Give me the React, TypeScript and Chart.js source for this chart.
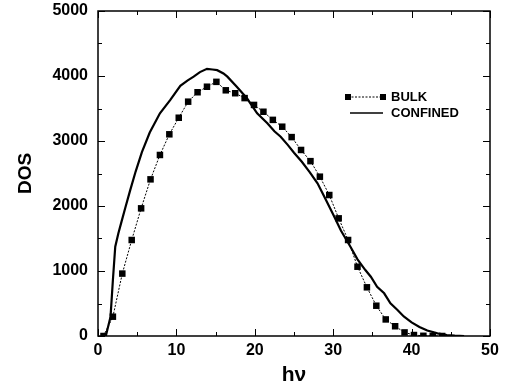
import React, { useEffect, useRef } from "react";
import { Chart, registerables } from "chart.js";

Chart.register(...registerables);

const bulkX = [0.7, 1.9, 3.1, 4.3, 5.5, 6.7, 7.9, 9.1, 10.3, 11.5, 12.7, 13.9, 15.1, 16.3, 17.5, 18.7, 19.9, 21.1, 22.3, 23.5, 24.7, 25.9, 27.1, 28.3, 29.5, 30.7, 31.9, 33.1, 34.3, 35.5, 36.7, 37.9, 39.1, 40.3, 41.5, 42.7, 43.9];
const bulkY = [0, 297, 960, 1477, 1964, 2410, 2785, 3103, 3358, 3605, 3750, 3835, 3910, 3780, 3735, 3660, 3555, 3450, 3325, 3220, 3060, 2862, 2690, 2451, 2169, 1810, 1477, 1066, 749, 466, 255, 150, 55, 15, 3, 0, 0];

const confinedX = [1.0, 1.6, 1.9, 2.2, 2.6, 3.0, 3.5, 4.1, 4.8, 5.6, 6.6, 7.9, 9.2, 10.5, 11.4, 12.2, 13.0, 13.9, 14.6, 15.2, 16.0, 16.5, 17.7, 19.0, 20.3, 21.6, 22.5, 23.3, 24.2, 25.0, 26.0, 27.0, 28.0, 29.0, 30.0, 31.0, 32.2, 33.1, 34.1, 34.8, 35.6, 36.5, 37.3, 38.2, 39.0, 40.0, 41.0, 42.0, 43.3, 44.5, 45.5, 46.7];
const confinedY = [0, 297, 862, 1374, 1580, 1760, 1980, 2240, 2530, 2830, 3130, 3426, 3630, 3850, 3930, 3990, 4060, 4110, 4100, 4090, 4040, 3990, 3835, 3657, 3426, 3272, 3150, 3066, 2940, 2820, 2680, 2520, 2350, 2110, 1870, 1620, 1374, 1180, 1015, 912, 758, 657, 503, 400, 300, 210, 140, 85, 41, 15, 5, 0];

const xMajorTicks = [0, 10, 20, 30, 40, 50];
const xMinorTicks = [5, 15, 25, 35, 45];
const yMajorTicks = [0, 1000, 2000, 3000, 4000, 5000];
const yMinorTicks = [500, 1500, 2500, 3500, 4500];

const seriesLabels = ["BULK", "CONFINED"];
const xTitle = "h\u03bd";
const yTitle = "DOS";

const FONT = "'Liberation Sans', Arial, Helvetica, sans-serif";

const framePlugin = {
  id: "frameTicks",
  afterDraw(chart: any) {
    const { ctx, chartArea } = chart;
    const { left, right, top, bottom } = chartArea;
    const xs = chart.scales.x;
    const ys = chart.scales.y;
    ctx.save();
    ctx.strokeStyle = "#000";
    ctx.lineWidth = 1.5;
    ctx.strokeRect(left, top, right - left, bottom - top);
    ctx.lineWidth = 1;
    const drawX = (vals: number[], len: number) => {
      vals.forEach((v) => {
        const px = Math.round(xs.getPixelForValue(v)) + 0.5;
        ctx.beginPath();
        ctx.moveTo(px, bottom);
        ctx.lineTo(px, bottom - len);
        ctx.moveTo(px, top);
        ctx.lineTo(px, top + len);
        ctx.stroke();
      });
    };
    const drawY = (vals: number[], len: number) => {
      vals.forEach((v) => {
        const py = Math.round(ys.getPixelForValue(v)) + 0.5;
        ctx.beginPath();
        ctx.moveTo(left, py);
        ctx.lineTo(left + len, py);
        ctx.moveTo(right, py);
        ctx.lineTo(right - len, py);
        ctx.stroke();
      });
    };
    drawX(xMajorTicks, 7);
    drawX(xMinorTicks, 4);
    drawY(yMajorTicks, 7);
    drawY(yMinorTicks, 4);

    // legend
    const lx0 = left + (348 - 98);
    const lx1 = left + (383 - 98);
    const tx = left + (391 - 98);
    const y1 = top + (97 - 11);
    const y2 = top + (113 - 11);
    ctx.strokeStyle = "#000";
    ctx.fillStyle = "#000";
    ctx.lineWidth = 1;
    ctx.setLineDash([2, 1.5]);
    ctx.beginPath();
    ctx.moveTo(lx0, y1);
    ctx.lineTo(lx1, y1);
    ctx.stroke();
    ctx.setLineDash([]);
    ctx.fillRect(lx0 - 3, y1 - 3, 6, 6);
    ctx.fillRect(lx1 - 3, y1 - 3, 6, 6);
    ctx.lineWidth = 1.5;
    ctx.beginPath();
    ctx.moveTo(lx0 + 2, y2);
    ctx.lineTo(lx1, y2);
    ctx.stroke();
    ctx.font = `bold 13px ${FONT}`;
    ctx.textBaseline = "middle";
    ctx.textAlign = "left";
    ctx.fillText(seriesLabels[0], tx, y1 + 0.5);
    ctx.fillText(seriesLabels[1], tx, y2 + 0.5);
    ctx.restore();
  },
};

export default function App() {
  const canvasRef = useRef<HTMLCanvasElement | null>(null);

  useEffect(() => {
    document.body.style.margin = "0";
    const canvas = canvasRef.current;
    if (!canvas) return;
    const chart = new Chart(canvas, {
      type: "scatter",
      data: {
        datasets: [
          {
            label: seriesLabels[1],
            data: confinedX.map((x, i) => ({ x, y: confinedY[i] })),
            showLine: true,
            borderColor: "#000",
            borderWidth: 2.2,
            pointRadius: 0,
            tension: 0,
          },
          {
            label: seriesLabels[0],
            data: bulkX.map((x, i) => ({ x, y: bulkY[i] })),
            showLine: true,
            borderColor: "#000",
            borderWidth: 1,
            borderDash: [2, 1.5],
            pointStyle: "rect",
            pointRadius: 4.6,
            pointBackgroundColor: "#000",
            pointBorderWidth: 0,
            tension: 0,
          },
        ],
      },
      options: {
        animation: false,
        responsive: true,
        maintainAspectRatio: false,
        layout: { padding: { left: 0, right: 15, top: 11, bottom: 0 } },
        plugins: { legend: { display: false }, tooltip: { enabled: false } },
        scales: {
          x: {
            type: "linear",
            min: 0,
            max: 50,
            grid: { display: false, drawTicks: false },
            border: { display: false },
            ticks: {
              stepSize: 10,
              padding: 5,
              color: "#000",
              font: { family: FONT, size: 16, weight: "bold" },
              maxRotation: 0,
              callback: (v: any) => String(v),
            },
            title: {
              display: true,
              text: xTitle,
              color: "#000",
              font: { family: FONT, size: 21, weight: "bold" },
              padding: { top: 0, bottom: 0 },
            },
            afterFit: (scale: any) => {
              scale.height = 52;
              scale.paddingLeft = 0;
              scale.paddingRight = 0;
            },
          },
          y: {
            type: "linear",
            min: 0,
            max: 5000,
            grid: { display: false, drawTicks: false },
            border: { display: false },
            ticks: {
              stepSize: 1000,
              padding: 10,
              color: "#000",
              font: { family: FONT, size: 16, weight: "bold" },
              callback: (v: any) => String(v),
            },
            title: {
              display: true,
              text: yTitle,
              color: "#000",
              font: { family: FONT, size: 19, weight: "bold" },
              padding: { top: 14, bottom: 0 },
            },
            afterFit: (scale: any) => {
              scale.width = 98;
              scale.paddingTop = 0;
              scale.paddingBottom = 0;
            },
          },
        },
      },
      plugins: [framePlugin],
    });
    return () => chart.destroy();
  }, []);

  return (
    <div style={{ width: 505, height: 388, position: "relative", background: "#fff" }}>
      <canvas ref={canvasRef} />
    </div>
  );
}
